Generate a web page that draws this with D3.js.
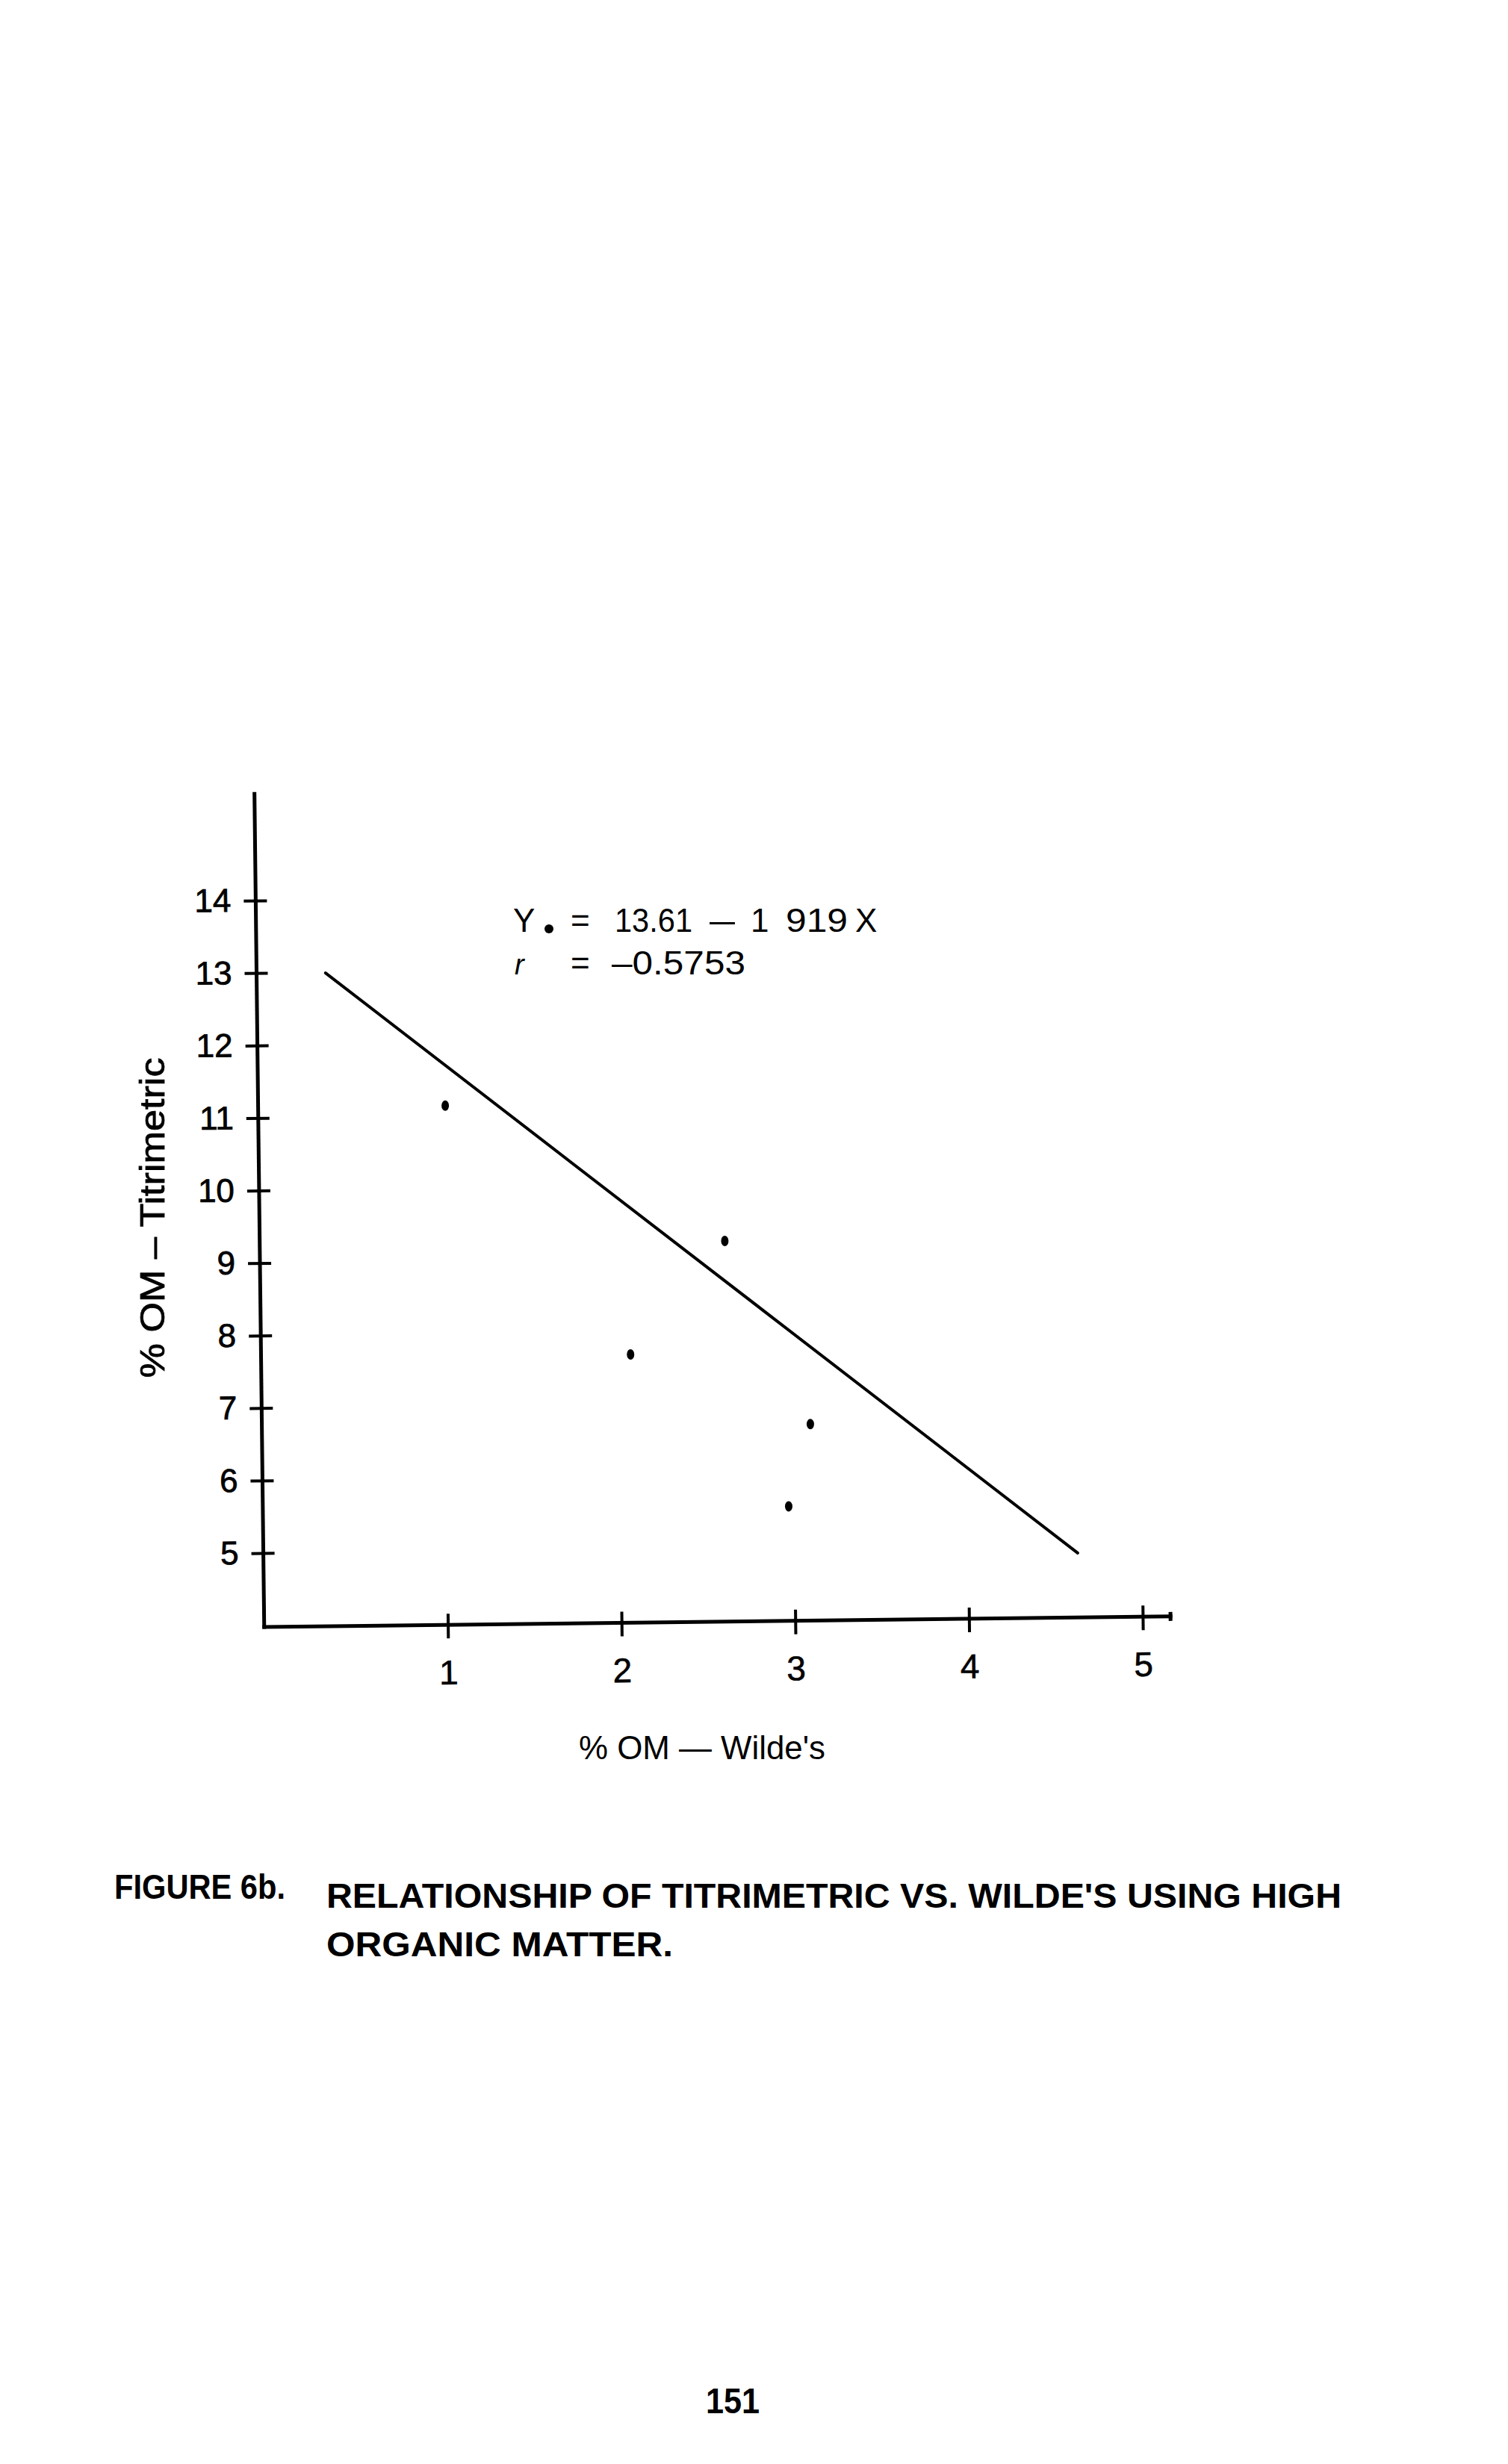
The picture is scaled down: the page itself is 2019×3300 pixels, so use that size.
<!DOCTYPE html>
<html>
<head>
<meta charset="utf-8">
<script src="https://cdn.jsdelivr.net/npm/d3@7"></script>
<style>
  html, body { margin: 0; padding: 0; background: #fff; }
  svg { display: block; }
</style>
</head>
<body>
<script>
// ---------- data ----------
const xTicks = [1, 2, 3, 4, 5];
const yTicks = [5, 6, 7, 8, 9, 10, 11, 12, 13, 14];
const xTickLabels = ["1", "2", "3", "4", "5"];
const yTickLabels = ["5", "6", "7", "8", "9", "10", "11", "12", "13", "14"];
const pointX = [1.02, 2.62, 2.07, 3.10, 2.97];
const pointY = [11.14, 9.23, 7.68, 6.69, 5.56];
const fitX = [0.34, 4.63];
const fitY = [12.99, 4.87];
const xLabel = "% OM — Wilde's";
const yLabel = "% OM – Titrimetric";
const eqLine1 = ["Y", "=", "13.61", "–", "1", "919", "X"];
const eqLine2 = ["r", "=", "–0.5753"];
const captionHead = "FIGURE 6b.";
const captionLines = ["RELATIONSHIP OF TITRIMETRIC VS. WILDE'S USING HIGH", "ORGANIC MATTER."];
const pageNumber = "151";

// axis extents (data units)
const xExtent = [-0.057, 5.16];
const yExtent = [3.98, 15.47];

// ---------- layout ----------
const W = 2019, H = 3300;
const svg = d3.select("body").append("svg")
  .attr("width", W).attr("height", H)
  .attr("viewBox", `0 0 ${W} ${H}`);
svg.append("rect").attr("width", W).attr("height", H).attr("fill", "#fff");

const x = d3.scaleLinear().domain([0, 5]).range([367, 1530]);
const y = d3.scaleLinear().domain([5, 14]).range([2080, 1206]);

const x0 = x(xExtent[0]);
const y0 = y(yExtent[0]);

const narrow = "'Liberation Sans Narrow', 'Liberation Sans', Arial, sans-serif";
const sans = "'Liberation Sans', Arial, Helvetica, sans-serif";

// the scanned figure is slightly rotated
const plot = svg.append("g").attr("transform", `rotate(-0.67, ${x0}, ${y0})`);

// axis lines
plot.append("line")
  .attr("x1", x0).attr("x2", x0)
  .attr("y1", y(yExtent[0])).attr("y2", y(yExtent[1]))
  .attr("stroke", "#000").attr("stroke-width", 5).attr("stroke-linecap", "square");
plot.append("line")
  .attr("x1", x0).attr("x2", x(xExtent[1]))
  .attr("y1", y0).attr("y2", y0)
  .attr("stroke", "#000").attr("stroke-width", 5).attr("stroke-linecap", "square");
// little end mark on x axis
plot.append("line")
  .attr("x1", x(xExtent[1])).attr("x2", x(xExtent[1]))
  .attr("y1", y0 - 6).attr("y2", y0 + 6)
  .attr("stroke", "#000").attr("stroke-width", 5);

// y axis ticks/labels
const yAxis = plot.append("g")
  .attr("transform", `translate(${x0},0)`)
  .call(d3.axisLeft(y).tickValues(yTicks).tickSize(15).tickPadding(18)
    .tickFormat((d, i) => yTickLabels[i]));
yAxis.select(".domain").remove();
yAxis.selectAll(".tick line").attr("x1", 15).attr("x2", -16)
  .attr("stroke", "#000").attr("stroke-width", 4);
yAxis.selectAll(".tick text")
  .attr("font-family", narrow).attr("font-size", 44).attr("fill", "#000")
  .attr("stroke", "#000").attr("stroke-width", 0.8);

// x axis ticks/labels
const xAxis = plot.append("g")
  .attr("transform", `translate(0,${y0})`)
  .call(d3.axisBottom(x).tickValues(xTicks).tickSize(18).tickPadding(29)
    .tickFormat((d, i) => xTickLabels[i]));
xAxis.select(".domain").remove();
xAxis.selectAll(".tick line").attr("y1", -15).attr("y2", 18)
  .attr("stroke", "#000").attr("stroke-width", 4);
xAxis.selectAll(".tick text")
  .attr("font-family", narrow).attr("font-size", 46).attr("fill", "#000")
  .attr("stroke", "#000").attr("stroke-width", 0.6);

// regression line
const fitData = fitX.map((v, i) => [v, fitY[i]]);
plot.append("path")
  .datum(fitData)
  .attr("d", d3.line().x(d => x(d[0])).y(d => y(d[1])))
  .attr("fill", "none").attr("stroke", "#000").attr("stroke-width", 4)
  .attr("stroke-linecap", "round");

// points
const pts = pointX.map((v, i) => [v, pointY[i]]);
plot.selectAll("ellipse.pt").data(pts).enter().append("ellipse")
  .attr("class", "pt")
  .attr("cx", d => x(d[0])).attr("cy", d => y(d[1]))
  .attr("rx", 5).attr("ry", 7)
  .attr("fill", "#000");

// ---------- texts ----------
// equation
const eq1 = svg.append("g").attr("font-family", sans).attr("font-size", 44).attr("fill", "#000");
const eq1Pos = [687, 764, 823, 950, 1005, 1052, 1145];
const eq1Len = [null, null, 104, 34, null, 83, null];
eqLine1.forEach((t, i) => {
  const el = eq1.append("text").attr("x", eq1Pos[i]).attr("y", 1248).text(t);
  if (eq1Len[i]) el.attr("textLength", eq1Len[i]).attr("lengthAdjust", "spacingAndGlyphs");
});
eq1.append("circle").attr("cx", 735).attr("cy", 1244).attr("r", 6).attr("fill", "#000");

const eq2Pos = [689, 764, 819];
const eq2Len = [null, null, 179];
eqLine2.forEach((t, i) => {
  const el = eq1.append("text").attr("x", eq2Pos[i]).attr("y", 1305).text(t);
  if (i === 0) el.attr("font-style", "italic").attr("font-size", 38);
  if (eq2Len[i]) el.attr("textLength", eq2Len[i]).attr("lengthAdjust", "spacingAndGlyphs");
});

// axis titles
svg.append("text")
  .attr("transform", "translate(220,1631) rotate(-90)")
  .attr("text-anchor", "middle")
  .attr("font-family", narrow).attr("font-size", 46)
  .attr("stroke", "#000").attr("stroke-width", 0.8)
  .attr("textLength", 429).attr("lengthAdjust", "spacingAndGlyphs")
  .text(yLabel);

svg.append("text")
  .attr("x", 940).attr("y", 2356)
  .attr("text-anchor", "middle")
  .attr("font-family", narrow).attr("font-size", 44)
  .attr("textLength", 330).attr("lengthAdjust", "spacingAndGlyphs")
  .text(xLabel);

// caption
const cap = svg.append("g").attr("font-family", narrow).attr("font-weight", "bold")
  .attr("font-size", 46).attr("fill", "#000");
cap.append("text").attr("x", 153).attr("y", 2543)
  .attr("textLength", 229).attr("lengthAdjust", "spacingAndGlyphs")
  .text(captionHead);
const capY = [2555, 2620];
const capLen = [1359, 464];
captionLines.forEach((t, i) => {
  cap.append("text").attr("x", 437).attr("y", capY[i])
    .attr("textLength", capLen[i]).attr("lengthAdjust", "spacingAndGlyphs")
    .text(t);
});

// page number
svg.append("text")
  .attr("x", 945).attr("y", 3232)
  .attr("font-family", narrow).attr("font-weight", "bold").attr("font-size", 48)
  .attr("textLength", 72).attr("lengthAdjust", "spacingAndGlyphs")
  .text(pageNumber);
</script>
</body>
</html>
